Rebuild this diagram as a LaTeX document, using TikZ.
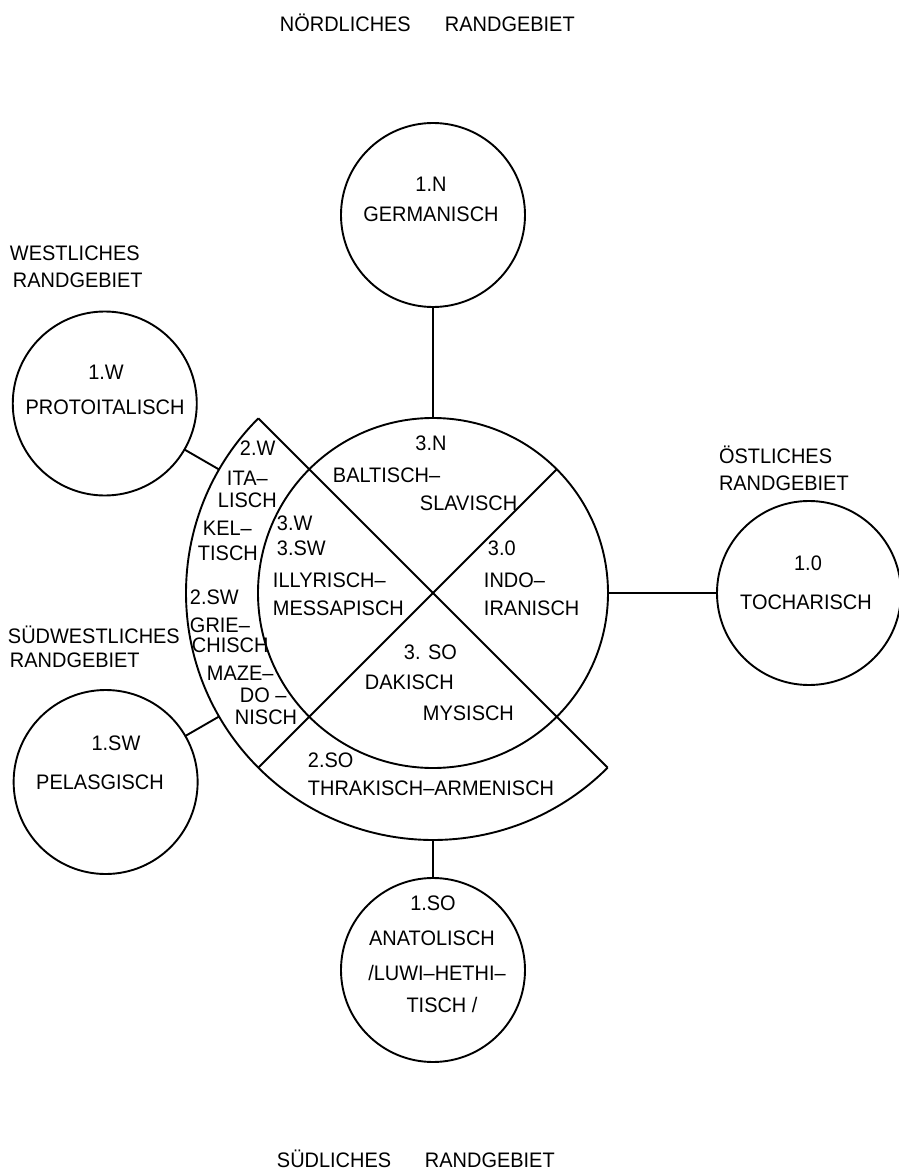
\documentclass[tikz,border=0pt]{standalone}
\usepackage{fontspec}
\setmainfont{Liberation Sans}[FakeStretch=0.95]
\begin{document}
\begin{tikzpicture}[x=1pt,y=1pt,line width=1.9pt,
  every node/.style={font=\fontsize{21}{25}\selectfont, inner sep=0pt, outer sep=0pt},
  sat/.style={circle, draw, minimum size=184pt},
  lbl/.style={anchor=base west},
  ctr/.style={anchor=base}]
\useasboundingbox (-433,-578) rectangle (466,593);

% central circle and ring
\node[circle, draw, minimum size=350pt] (core) at (0,0) {};
\node[circle, minimum size=494pt] (ring) at (0,0) {};
\draw (ring.135) arc[start angle=135, end angle=315, radius=247];
\draw (ring.135) -- (ring.-45);
\draw (core.45) -- (ring.225);

% satellites
\node[sat] (germ) at (90:378) {};
\node[sat] (toch) at (0:376) {};
\node[sat] (prot) at (150:379) {};
\node[sat] (pela) at (210:378) {};
\node[sat] (anat) at (270:377) {};

% connectors
\draw (germ) -- (core);
\draw (core) -- (toch);
\draw (prot) -- (ring);
\draw (pela) -- (ring);
\draw (ring) -- (anat);

% core texts
\node[ctr] (t3n) at (-2,143) {3.N};
\node[lbl] (tbalt) at (-100,111) {BALTISCH--};
\node[lbl] (tslav) at (-13,83) {SLAVISCH};
\node[lbl] (t3o) at (55,38) {3.0};
\node[lbl] (tindo) at (51,6) {INDO--};
\node[lbl] (tiran) at (51,-22) {IRANISCH};
\node[lbl] (t3w) at (-156,63) {3.W};
\node[lbl] (t3sw) at (-156,38) {3.SW};
\node[lbl] (tilly) at (-160,6) {ILLYRISCH--};
\node[lbl] (tmess) at (-160,-22) {MESSAPISCH};
\node[lbl] (t3so) at (-29,-66) {3. SO};
\node[lbl] (tdak) at (-68,-96) {DAKISCH};
\node[lbl] (tmys) at (-10,-127) {MYSISCH};
\node[lbl] (t2so) at (-125,-174) {2.SO};
\node[lbl] (tthra) at (-125,-202) {THRAKISCH--ARMENISCH};
\node[lbl] (t2w) at (-193,138) {2.W};
\node[lbl] (tita) at (-206,108) {ITA--};
\node[lbl] (tlisch) at (-215,86) {LISCH};
\node[lbl] (tkel) at (-230,58) {KEL--};
\node[lbl] (ttisch) at (-235,33) {TISCH};
\node[lbl] (t2sw) at (-243,-11) {2.SW};
\node[lbl] (tgrie) at (-243,-39) {GRIE--};
\node[lbl] (tchisch) at (-241,-59) {CHISCH};
\node[lbl] (tmaze) at (-226,-87) {MAZE--};
\node[lbl] (tdo) at (-193,-109) {DO --};
\node[lbl] (tnisch) at (-198,-131) {NISCH};

% satellite texts
\node[ctr] (s1n) at (-2,401) {1.N};
\node[ctr] (sgerm) at (-2,371) {GERMANISCH};
\node[ctr] (s1w) at (-327,214) {1.W};
\node[ctr] (sprot) at (-328,179) {PROTOITALISCH};
\node[ctr] (s1o) at (375,23) {1.0};
\node[ctr] (stoch) at (373,-16) {TOCHARISCH};
\node[ctr] (s1sw) at (-317,-157) {1.SW};
\node[ctr] (spela) at (-333,-196) {PELASGISCH};
\node[ctr] (s1so) at (0,-317) {1.SO};
\node[ctr] (sanat) at (-1,-352) {ANATOLISCH};
\node[ctr] (sluwi) at (4,-387) {/LUWI--HETHI--};
\node[ctr] (stisch) at (9,-419) {TISCH /};

% region labels
\node[lbl] (rn1) at (-153,561) {NÖRDLICHES};
\node[lbl] (rn2) at (12,561) {RANDGEBIET};
\node[lbl] (rw1) at (-423,333) {WESTLICHES};
\node[lbl] (rw2) at (-420,306) {RANDGEBIET};
\node[lbl] (ro1) at (286,130) {ÖSTLICHES};
\node[lbl] (ro2) at (286,103) {RANDGEBIET};
\node[lbl] (rsw1) at (-425,-50) {SÜDWESTLICHES};
\node[lbl] (rsw2) at (-423,-74) {RANDGEBIET};
\node[lbl] (rs1) at (-156,-574) {SÜDLICHES};
\node[lbl] (rs2) at (-8,-574) {RANDGEBIET};
\end{tikzpicture}
\end{document}
